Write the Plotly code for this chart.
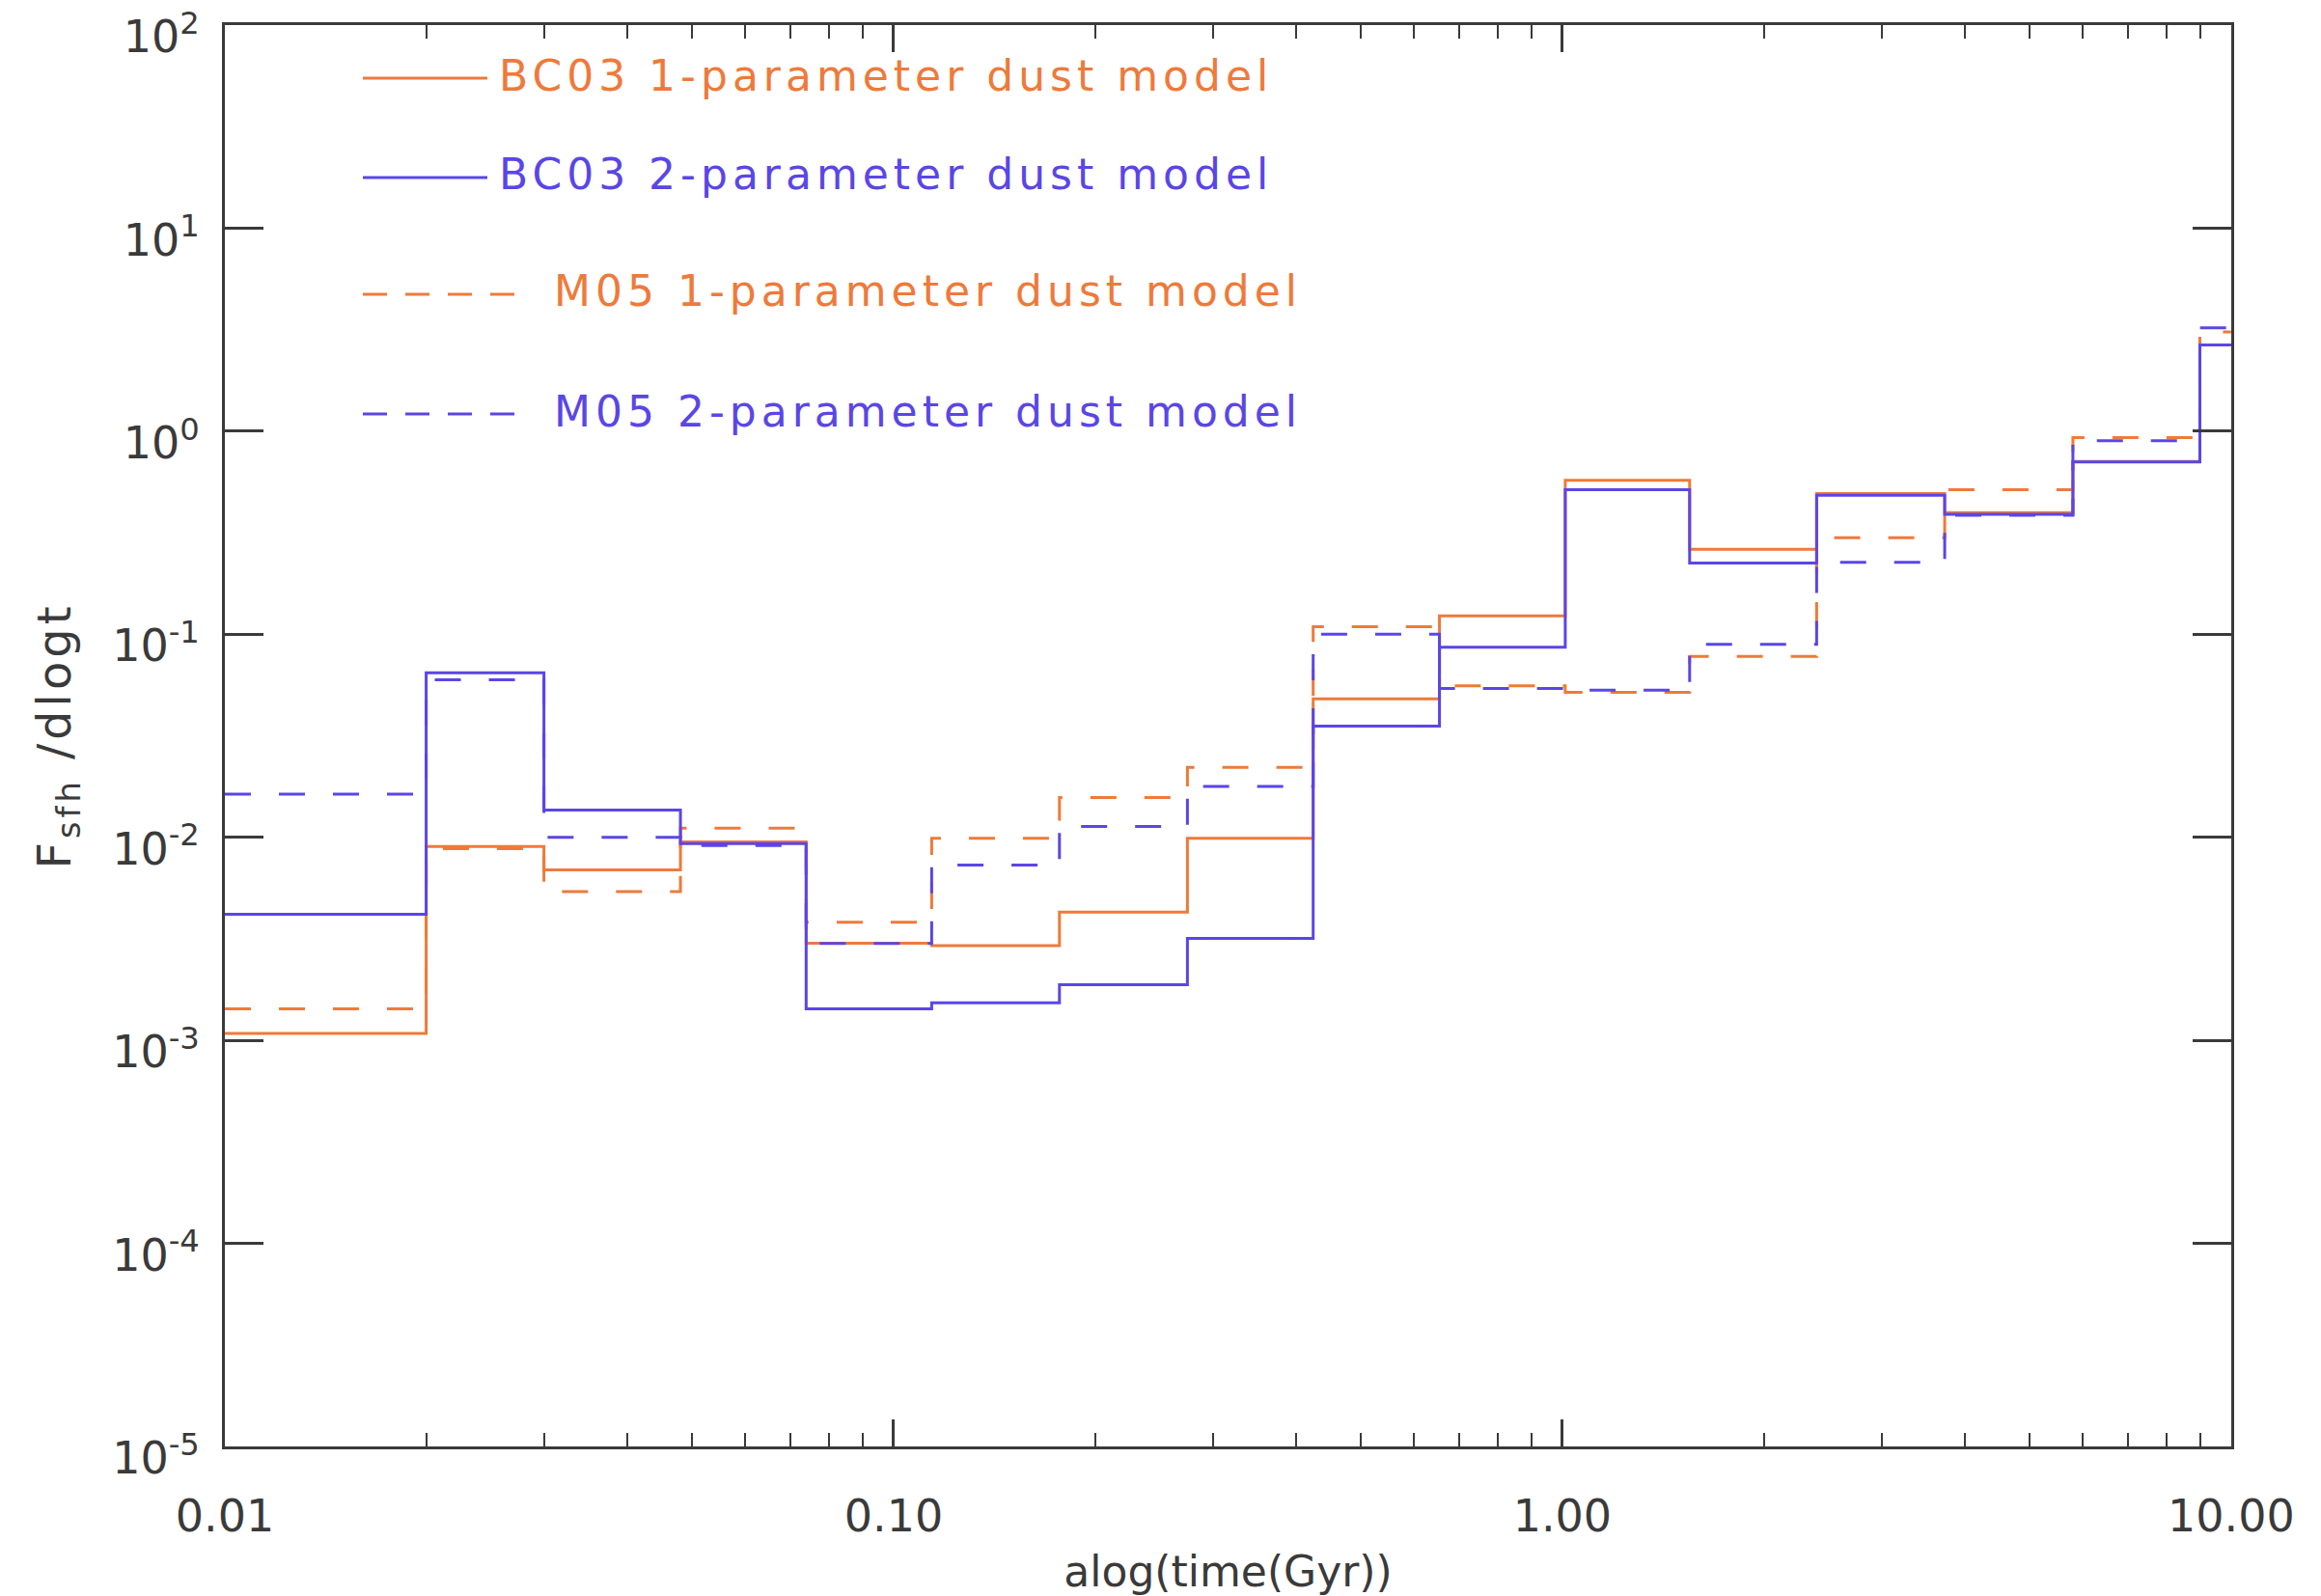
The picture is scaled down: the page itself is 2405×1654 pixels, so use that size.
import plotly.graph_objects as go

# Bin edges (Gyr) of the star-formation-history histogram
edges = [0.01, 0.020, 0.030, 0.048, 0.074, 0.114, 0.177, 0.275, 0.424, 0.655,
         1.01, 1.55, 2.40, 3.73, 5.80, 8.98, 10.0]

bc03_1p = [0.00108, 0.0090, 0.0069, 0.0095, 0.00301, 0.00293, 0.00428, 0.0099,
           0.048, 0.123, 0.573, 0.262, 0.493, 0.397, 0.709, 2.66]
bc03_2p = [0.00418, 0.0645, 0.0136, 0.0093, 0.00143, 0.00153, 0.00188, 0.00318,
           0.0353, 0.0863, 0.515, 0.224, 0.484, 0.390, 0.705, 2.66]
m05_1p = [0.00143, 0.0088, 0.0054, 0.0111, 0.00382, 0.0099, 0.0157, 0.0221,
          0.109, 0.0557, 0.0518, 0.0778, 0.299, 0.515, 0.930, 3.08]
m05_2p = [0.0163, 0.0596, 0.0100, 0.0091, 0.0030, 0.0073, 0.0113, 0.0178,
          0.100, 0.054, 0.0531, 0.0891, 0.226, 0.385, 0.897, 3.23]

series_names = ["BC03 1-parameter dust model", "BC03 2-parameter dust model",
                "M05 1-parameter dust model", "M05 2-parameter dust model"]

x_tickvals = [0.01, 0.1, 1, 10]
x_ticktext = ["0.01", "0.10", "1.00", "10.00"]
y_tickvals = [1e-5, 1e-4, 1e-3, 1e-2, 1e-1, 1e0, 1e1, 1e2]
y_ticktext = ["10<sup>-5</sup>", "10<sup>-4</sup>", "10<sup>-3</sup>", "10<sup>-2</sup>",
              "10<sup>-1</sup>", "10<sup>0</sup>", "10<sup>1</sup>", "10<sup>2</sup>"]

ORANGE = "#EE7A3A"
BLUE = "#5A46E6"
DASH = "27px,29px"
FONT = "DejaVu Sans"
AX = "#3a3a3a"

W, H = 2405, 1654
L, R, T, B = 233, 2312, 26, 1499

fig = go.Figure()

styles = [
    (bc03_1p, series_names[0], ORANGE, "solid"),
    (m05_1p, series_names[2], ORANGE, DASH),
    (bc03_2p, series_names[1], BLUE, "solid"),
    (m05_2p, series_names[3], BLUE, DASH),
]
for vals, name, col, dash in styles:
    fig.add_trace(go.Scatter(
        x=edges, y=vals + [vals[-1]], mode="lines", name=name,
        line=dict(color=col, width=3, dash=dash, shape="hv"),
        showlegend=False,
    ))

# transparent helper trace so the top axis (minor ticks) is drawn
fig.add_trace(go.Scatter(x=edges, y=bc03_1p + [bc03_1p[-1]], mode="lines",
                         line=dict(width=0, color="rgba(0,0,0,0)"), opacity=0,
                         xaxis="x2", yaxis="y", showlegend=False, hoverinfo="skip"))

# Legend drawn as line samples + coloured labels
def px_x(px):
    return (px - L) / (R - L)

def px_y(py):
    return (B - py) / (B - T)

legend_rows = [
    (series_names[0], ORANGE, "solid", 376, 505, 515, 81),
    (series_names[1], BLUE, "solid", 376, 505, 515, 184),
    (series_names[2], ORANGE, "dash", 376, 533, 572, 305),
    (series_names[3], BLUE, "dash", 376, 533, 572, 429),
]
for name, col, dash, x0, x1, xt, yy in legend_rows:
    fig.add_shape(type="line", xref="paper", yref="paper",
                  x0=px_x(x0), x1=px_x(x1), y0=px_y(yy), y1=px_y(yy),
                  line=dict(color=col, width=3,
                            dash="solid" if dash == "solid" else "25px,19px"))
    fig.add_annotation(xref="paper", yref="paper", x=px_x(xt), y=px_y(yy - 3),
                       text='<span style="letter-spacing:5px">' + name + '</span>',
                       showarrow=False, xanchor="left", yanchor="middle",
                       font=dict(family=FONT, size=44, color=col))

fig.update_layout(
    width=W, height=H,
    margin=dict(l=L, r=W - R, t=T, b=H - B, pad=0, autoexpand=False),
    plot_bgcolor="white", paper_bgcolor="white",
    font=dict(family=FONT, size=46, color=AX),
    showlegend=False,
)

minor_x = [m * d for d in (0.01, 0.1, 1) for m in range(2, 10)]
xrange_ = [-2, 1.0002]

fig.update_layout(xaxis=dict(
    type="log", range=xrange_, automargin=False,
    showline=True, linecolor=AX, linewidth=3, mirror="ticks",
    ticks="inside", ticklen=28, tickwidth=2.5, tickcolor=AX,
    tickvals=x_tickvals, ticktext=x_ticktext,
    tickfont=dict(family=FONT, size=46, color=AX),
    ticklabelstandoff=30, ticklabeloverflow="allow",
    minor=dict(ticks="inside", ticklen=14, tickwidth=2, tickcolor=AX,
               tickvals=minor_x, showgrid=False),
    showgrid=False, zeroline=False,
    title=dict(text="alog(time(Gyr))", font=dict(family=FONT, size=44, color=AX), standoff=18),
))
fig.update_layout(xaxis2=dict(
    type="log", range=xrange_, overlaying="x", side="top", anchor="y",
    automargin=False, showline=False, showticklabels=False,
    ticks="inside", ticklen=14, tickwidth=2, tickcolor=AX,
    tickvals=minor_x,
    showgrid=False, zeroline=False,
))
fig.update_layout(yaxis=dict(
    type="log", range=[-5.0002, 2.0002], automargin=False,
    showline=True, linecolor=AX, linewidth=3, mirror="ticks",
    ticks="inside", ticklen=40, tickwidth=2.5, tickcolor=AX,
    tickvals=y_tickvals, ticktext=y_ticktext,
    tickfont=dict(family=FONT, size=46, color=AX),
    ticklabelstandoff=14, ticklabelshift=12, ticklabeloverflow="allow",
    showgrid=False, zeroline=False,
    title=dict(text='<span style="letter-spacing:4px">F<sub>sfh</sub> /dlogt</span>',
               font=dict(family=FONT, size=48, color=AX), standoff=28),
))

fig.write_html("out.html")
